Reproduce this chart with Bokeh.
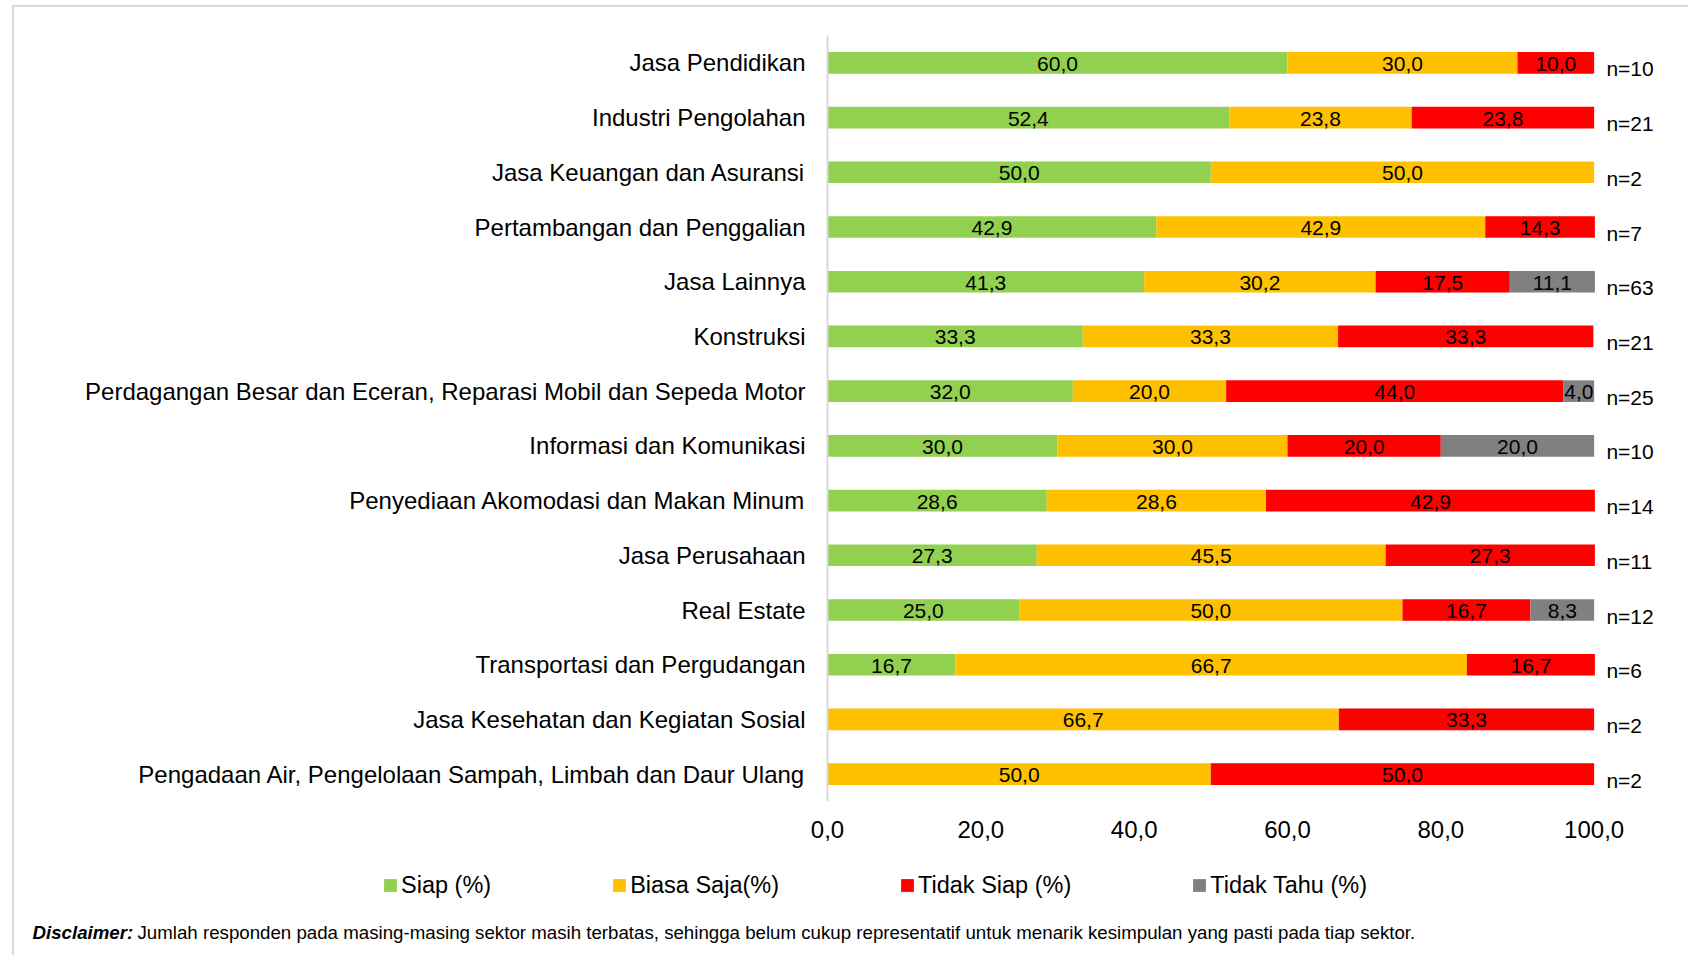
from bokeh.plotting import figure
from bokeh.layouts import column
from bokeh.models import (ColumnDataSource, FactorRange, Range1d, FixedTicker, Legend, LegendItem,
                          Label, CustomJSTickFormatter, InlineStyleSheet)
from bokeh.core.properties import value
from bokeh.embed import file_html
from bokeh.resources import INLINE

categories = [
    "Jasa Pendidikan",
    "Industri Pengolahan",
    "Jasa Keuangan dan Asuransi",
    "Pertambangan dan Penggalian",
    "Jasa Lainnya",
    "Konstruksi",
    "Perdagangan Besar dan Eceran, Reparasi Mobil dan Sepeda Motor",
    "Informasi dan Komunikasi",
    "Penyediaan Akomodasi dan Makan Minum",
    "Jasa Perusahaan",
    "Real Estate",
    "Transportasi dan Pergudangan",
    "Jasa Kesehatan dan Kegiatan Sosial",
    "Pengadaan Air, Pengelolaan Sampah, Limbah dan Daur Ulang",
]
siap = [60.0, 52.4, 50.0, 42.9, 41.3, 33.3, 32.0, 30.0, 28.6, 27.3, 25.0, 16.7, 0.0, 0.0]
biasa = [30.0, 23.8, 50.0, 42.9, 30.2, 33.3, 20.0, 30.0, 28.6, 45.5, 50.0, 66.7, 66.7, 50.0]
tidak_siap = [10.0, 23.8, 0.0, 14.3, 17.5, 33.3, 44.0, 20.0, 42.9, 27.3, 16.7, 16.7, 33.3, 50.0]
tidak_tahu = [0.0, 0.0, 0.0, 0.0, 11.1, 0.0, 4.0, 20.0, 0.0, 0.0, 8.3, 0.0, 0.0, 0.0]
n_resp = [10, 21, 2, 7, 63, 21, 25, 10, 14, 11, 12, 6, 2, 2]
series_names = ["Siap (%)", "Biasa Saja(%)", "Tidak Siap (%)", "Tidak Tahu (%)"]
x_ticks = [0, 20, 40, 60, 80, 100]
disclaimer_head = "Disclaimer:"
disclaimer_body = ("Jumlah responden pada masing-masing sektor masih terbatas, sehingga belum cukup "
                   "representatif untuk menarik kesimpulan yang pasti pada tiap sektor.")

colors = ["#92D050", "#FFC000", "#FF0000", "#808080"]
FONT = "Liberation Sans"
keys = ["siap", "biasa", "tidak", "tahu"]

W = 1690
H1, H2 = 846, 110
p = figure(width=W, height=H1, output_backend="svg", toolbar_location=None,
           y_range=FactorRange(factors=list(reversed(categories))),
           x_range=Range1d(0, 112.57),
           min_border_left=827, min_border_right=0, min_border_top=35, min_border_bottom=45)
p.outline_line_color = None
p.grid.grid_line_color = None

src = ColumnDataSource(dict(cat=categories, siap=siap, biasa=biasa, tidak=tidak_siap, tahu=tidak_tahu))
p.hbar_stack(keys, y="cat", height=0.395, color=colors, line_color=None, source=src)

# value labels at segment centres
lx, ly, lt = [], [], []
for i, c in enumerate(categories):
    left = 0.0
    for arr in (siap, biasa, tidak_siap, tidak_tahu):
        v = arr[i]
        if v > 0:
            lx.append(left + v / 2)
            ly.append(c)
            lt.append(f"{v:.1f}".replace(".", ","))
        left += v
p.text(x=lx, y=ly, text=lt, text_align="center", text_baseline="middle",
       text_font=value(FONT), text_font_size="21px", text_color="#000000", y_offset=1)

# n labels
nx = [101.6] * len(categories)
nt = [f"n={n}" for n in n_resp]
p.text(x=nx, y=categories, text=nt, text_align="left", text_baseline="middle",
       text_font=value(FONT), text_font_size="21px", text_color="#000000", y_offset=6)

xa = p.xaxis[0]
xa.ticker = FixedTicker(ticks=x_ticks)
xa.formatter = CustomJSTickFormatter(code="return tick.toFixed(1).replace('.', ',');")
xa.axis_line_color = None
xa.major_tick_line_color = None
xa.minor_tick_line_color = None
xa.major_label_text_font = FONT
xa.major_label_text_font_size = "24px"
xa.major_label_text_color = "#000000"
xa.major_label_standoff = 13

ya = p.yaxis[0]
ya.axis_line_color = "#D9D9D9"
ya.axis_line_width = 2
ya.major_tick_line_color = None
ya.minor_tick_line_color = None
ya.major_label_text_font = FONT
ya.major_label_text_font_size = "24px"
ya.major_label_text_color = "#000000"
ya.major_label_standoff = 16

# bottom strip: legend + disclaimer. The legend keys reuse the same series; this strip has a
# numeric y range, so the categorical bars themselves are not drawn here.
p2 = figure(width=W, height=H2, output_backend="svg", toolbar_location=None,
            x_range=Range1d(0, W), y_range=Range1d(0, H2),
            x_axis_location=None, y_axis_location=None, min_border=0)
p2.outline_line_color = None
p2.grid.grid_line_color = None
p2.frame_align = False
leg_rends = p2.hbar_stack(keys, y="cat", height=0.395, color=colors, line_color=None, source=src)

legend = Legend(items=[LegendItem(label=series_names[i], renderers=[leg_rends[i]]) for i in range(4)],
                orientation="horizontal", location=(382, 57),
                glyph_width=16, glyph_height=16, label_height=28, label_standoff=3,
                spacing=120, padding=0, margin=0, border_line_color=None,
                background_fill_alpha=0,
                label_text_font=FONT, label_text_font_size="23.5px", label_text_color="#000000")
p2.add_layout(legend, "center")

p2.add_layout(Label(x=32, y=24, x_units="screen", y_units="screen", text=disclaimer_head,
                    text_font=FONT, text_font_size="18.7px", text_font_style="bold italic",
                    text_baseline="middle", text_color="#000000"))
p2.add_layout(Label(x=137, y=24, x_units="screen", y_units="screen", text=disclaimer_body,
                    text_font=FONT, text_font_size="18.7px",
                    text_baseline="middle", text_color="#000000"))

css = InlineStyleSheet(css=""":host::before { content: ''; position: absolute; left: 12px; top: 5px;
  width: 1674px; height: 948px; border-left: 2px solid #D9D9D9; border-top: 2px solid #D9D9D9;
  pointer-events: none; z-index: 10; }""")
layout = column(p, p2, spacing=0, stylesheets=[css])

open("out.html", "w").write(file_html(layout, INLINE))
